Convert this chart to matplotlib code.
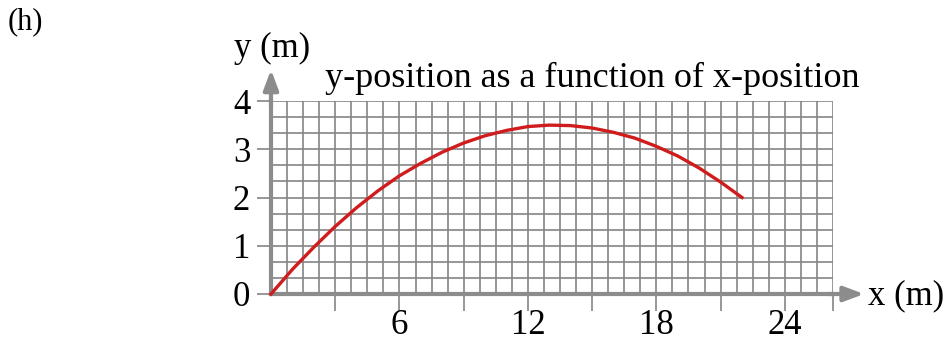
import matplotlib
matplotlib.use("Agg")
import matplotlib.pyplot as plt
from matplotlib.ticker import MultipleLocator

# values
x_pos = [0, 1, 2, 3, 4, 5, 6, 7, 8, 9, 10, 11, 12, 13, 14, 15, 16, 17, 18, 19, 20, 21, 22]
y_pos = [0, 0.51, 0.97, 1.40, 1.79, 2.14, 2.45, 2.71, 2.94, 3.13, 3.28, 3.39, 3.47,
         3.50, 3.49, 3.44, 3.35, 3.23, 3.06, 2.86, 2.61, 2.32, 2.0]
x_ticks = [3, 6, 9, 12, 15, 18, 21, 24, 26.25]
x_tick_labels = ["", "6", "", "12", "", "18", "", "24", ""]
y_ticks = [0, 1, 2, 3, 4]

plt.rcParams["font.family"] = ["Liberation Serif", "DejaVu Serif"]
GRID = "#858585"
AXIS = "#8c8c8c"

fig = plt.figure(figsize=(9.48, 3.44), dpi=100)
ax = fig.add_axes([271 / 948, 50 / 344, 562 / 948, 193 / 344])
ax.set_xlim(0, 26.25)
ax.set_ylim(0, 4)

ax.xaxis.set_minor_locator(MultipleLocator(0.75))
ax.yaxis.set_minor_locator(MultipleLocator(1 / 3))
ax.grid(which="both", color=GRID, linewidth=1.2)
ax.set_axisbelow(True)

ax.set_xticks(x_ticks)
ax.set_xticklabels(x_tick_labels)
ax.set_yticks(y_ticks)
ax.tick_params(axis="both", which="minor", length=0)
ax.tick_params(axis="x", which="major", direction="out", length=12, width=1.2,
               color=GRID, labelsize=25, pad=-1)
ax.tick_params(axis="y", which="major", direction="out", length=10, width=1.2,
               color=GRID, labelsize=25, pad=5)

for side in ["top", "right"]:
    ax.spines[side].set_visible(False)
for side in ["left", "bottom"]:
    ax.spines[side].set_color(AXIS)
    ax.spines[side].set_linewidth(3)

ax.plot(x_pos, y_pos, color="#d01c1c", linewidth=2.4, clip_on=False, zorder=5)

# axis arrows
ax.annotate("", xy=(27.7, 0), xytext=(26.0, 0), annotation_clip=False,
            arrowprops=dict(arrowstyle="-|>,head_length=1.2,head_width=0.45",
                            color=AXIS, lw=3, shrinkA=0, shrinkB=0))
ax.annotate("", xy=(0, 4.65), xytext=(0, 3.9), annotation_clip=False,
            arrowprops=dict(arrowstyle="-|>,head_length=1.2,head_width=0.45",
                            color=AXIS, lw=3, shrinkA=0, shrinkB=0))

fig.text(868 / 948, 1 - 296 / 344, "x (m)", fontsize=25, ha="left", va="center")
fig.text(272 / 948, 1 - 48 / 344, "y (m)", fontsize=25, ha="center", va="center")
fig.text(592 / 948, 1 - 78 / 344, "y-position as a function of x-position",
         fontsize=26, ha="center", va="center")
fig.text(8 / 948, 1 - 22 / 344, "(h)", fontsize=22, ha="left", va="center")

fig.savefig("out.png", dpi=100)
